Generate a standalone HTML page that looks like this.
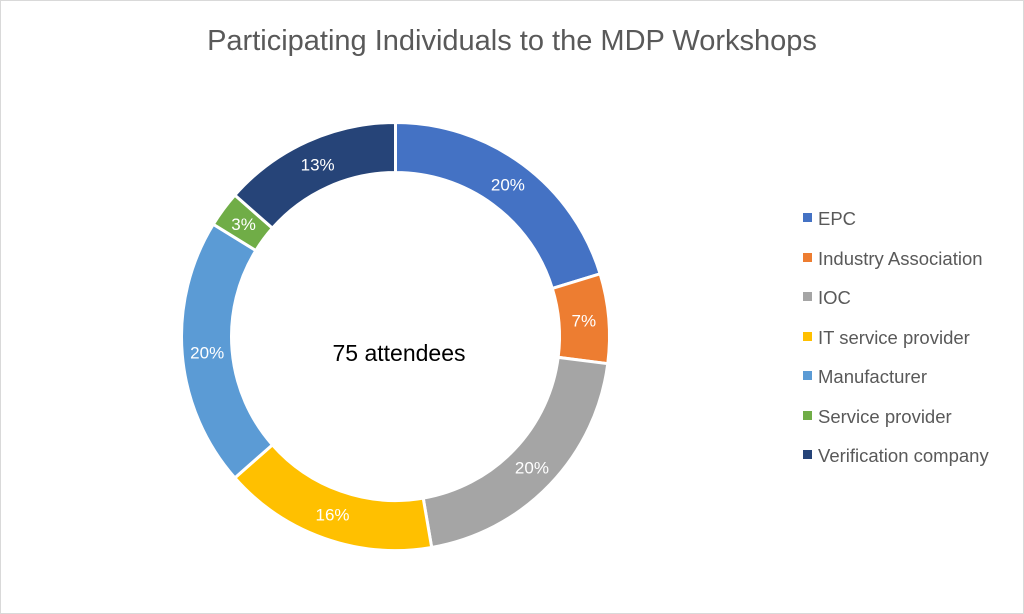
<!DOCTYPE html>
<html><head><meta charset="utf-8"><style>
html,body{margin:0;padding:0;background:#fff}
svg{display:block}
text{font-family:"Liberation Sans",sans-serif}
</style></head><body>
<svg id="s" width="1024" height="614" viewBox="0 0 1024 614">
<rect x="0.5" y="0.5" width="1023" height="613" fill="#fff" stroke="#d9d9d9"/>
<text x="512" y="50" text-anchor="middle" font-size="29" fill="#595959">Participating Individuals to the MDP Workshops</text>
<text x="399" y="361" text-anchor="middle" font-size="23" fill="#000">75 attendees</text>
<g id="g"></g>
<g font-size="18.5" fill="#595959">
<rect x="803" y="213" width="9" height="9" fill="#4472C4"/><text x="818" y="225">EPC</text>
<rect x="803" y="253" width="9" height="9" fill="#ED7D31"/><text x="818" y="265">Industry Association</text>
<rect x="803" y="292" width="9" height="9" fill="#A5A5A5"/><text x="818" y="304">IOC</text>
<rect x="803" y="332" width="9" height="9" fill="#FFC000"/><text x="818" y="344">IT service provider</text>
<rect x="803" y="371" width="9" height="9" fill="#5B9BD5"/><text x="818" y="383">Manufacturer</text>
<rect x="803" y="411" width="9" height="9" fill="#70AD47"/><text x="818" y="423">Service provider</text>
<rect x="803" y="450" width="9" height="9" fill="#264478"/><text x="818" y="462">Verification company</text>
</g>
</svg>
<script>
var v=[15,5,15,12,15,2,10],c=["#4472C4","#ED7D31","#A5A5A5","#FFC000","#5B9BD5","#70AD47","#264478"],l=["20%","7%","20%","16%","20%","3%","13%"];
var T=v.reduce((a,b)=>a+b,0),cx=395.5,cy=336.5,R=214,r=164,a=0,h="";
function p(rad,ang){return [cx+rad*Math.sin(ang),cy-rad*Math.cos(ang)];}
v.forEach(function(x,i){var b=a+x/T*2*Math.PI,L=(b-a)>Math.PI?1:0;
var o1=p(R,a),o2=p(R,b),i1=p(r,b),i2=p(r,a);
h+='<path d="M'+o1+' A'+R+','+R+' 0 '+L+' 1 '+o2+' L'+i1+' A'+r+','+r+' 0 '+L+' 0 '+i2+' Z" fill="'+c[i]+'" stroke="#fff" stroke-width="3"/>';
var m=p((R+r)/2,(a+b)/2);h+='<text x="'+m[0]+'" y="'+(m[1]+6)+'" text-anchor="middle" font-size="17" fill="#fff">'+l[i]+'</text>';a=b;});
document.getElementById("g").innerHTML=h;
</script>
</body></html>
